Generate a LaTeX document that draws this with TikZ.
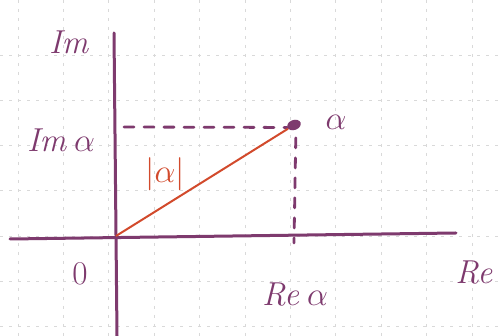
\documentclass[tikz,border=0pt]{standalone}
\usepackage{amsmath}
\usetikzlibrary{shapes.geometric}
\begin{document}
\begin{tikzpicture}[x=1pt,y=-1pt,
  gridline/.style={draw=black!15, dash pattern=on 3pt off 6pt, line width=0.8pt},
  axis/.style={draw=axiscol, line width=3pt, line cap=round},
  proj/.style={draw=axiscol, line width=2.8pt, dash pattern=on 10pt off 10pt, line cap=round},
  lbl/.style={text=axiscol, font=\huge, scale=1.6, inner sep=0pt},
  redlbl/.style={text=redcol, font=\huge, scale=1.6, inner sep=0pt}]
\definecolor{axiscol}{HTML}{7E3A6E}
\definecolor{redcol}{HTML}{D24A2C}
\useasboundingbox[fill=white] (0,0) rectangle (499,336);
% grid
\foreach \i in {0,...,10} {\draw[gridline] (18+45.4*\i,0) -- (18+45.4*\i,336);}
\foreach \j in {0,...,6} {\draw[gridline] (0,55+45.3*\j) -- (499,55+45.3*\j);}
% coordinates
\coordinate (O) at (116,236);
\coordinate (ytop) at (114,33);
\coordinate (ybot) at (117,336);
\coordinate (xleft) at (10,239);
\coordinate (xright) at (456,233);
\coordinate (hstart) at (124,127);
\coordinate (vend) at (294,243);
% axes
\draw[axis] (ybot) -- (ytop);
\draw[axis] (xleft) -- (xright);
% point
\node[ellipse, fill=axiscol, minimum width=14pt, minimum height=10pt, inner sep=0pt, rotate=20] (A) at (294,125) {};
% projections
\draw[proj] (hstart) -- (A.west);
\draw[proj] (A.south) ++(0,8) coordinate (vstart) -- (vend);
% modulus
\draw[draw=redcol, line width=2pt] (O) -- (A);
% labels
\node[lbl] (Im) at (70,42) {$\mathit{Im}$};
\node[lbl] (Ima) at (61,140) {$\mathit{Im}\,\alpha$};
\node[redlbl] (mod) at (165,174) {$|\alpha|$};
\node[lbl] (al) at (336,122) {$\alpha$};
\node[lbl] (zero) at (80,274) {$0$};
\node[lbl] (Rea) at (295,294) {$\mathit{Re}\,\alpha$};
\node[lbl, anchor=west] (Re) at (455,272) {$\mathit{Re}$};
\end{tikzpicture}
\end{document}
